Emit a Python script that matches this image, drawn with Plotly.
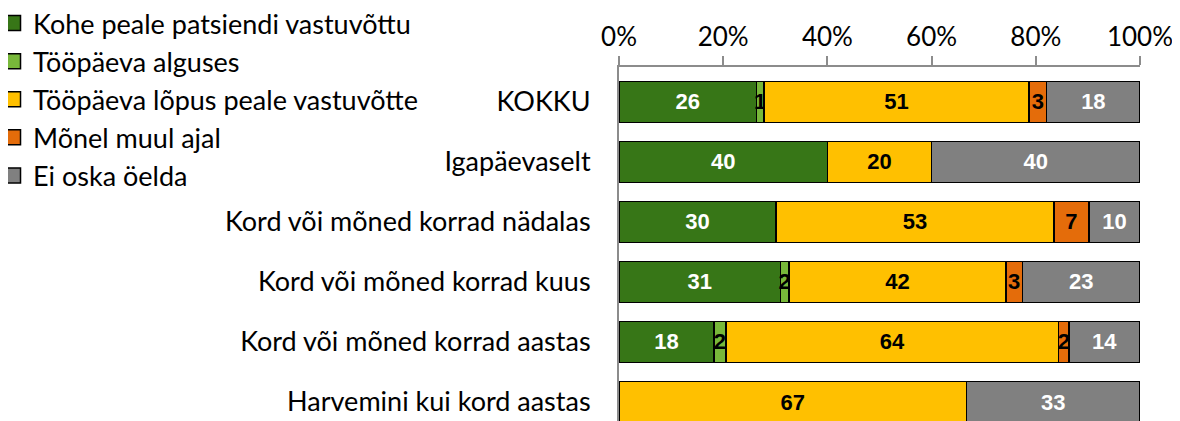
import plotly.graph_objects as go

categories = [
    "KOKKU",
    "Igapäevaselt",
    "Kord või mõned korrad nädalas",
    "Kord või mõned korrad kuus",
    "Kord või mõned korrad aastas",
    "Harvemini kui kord aastas",
]

series_names = [
    "Kohe peale patsiendi vastuvõttu",
    "Tööpäeva alguses",
    "Tööpäeva lõpus peale vastuvõtte",
    "Mõnel muul ajal",
    "Ei oska öelda",
]

kohe = [26.4, 40.0, 30.1, 31.0, 18.2, 0]
alguses = [1.4, 0, 0, 1.6, 2.3, 0]
lopus = [50.9, 20.0, 53.4, 41.7, 63.9, 66.7]
muul = [3.4, 0, 6.7, 3.1, 2.0, 0]
ei_oska = [17.9, 40.0, 9.8, 22.6, 13.6, 33.3]

x_tickvals = [0, 20, 40, 60, 80, 100]
x_ticktext = ["0%", "20%", "40%", "60%", "80%", "100%"]

colors = ["#377617", "#78B83A", "#FFC000", "#E46C0A", "#808080"]
text_colors = ["white", "black", "black", "black", "white"]

fig = go.Figure()

for name, vals, col, tcol in zip(
    series_names, [kohe, alguses, lopus, muul, ei_oska], colors, text_colors
):
    fig.add_trace(
        go.Bar(
            y=categories,
            x=vals,
            name=name,
            orientation="h",
            showlegend=False,
            marker=dict(color=col, line=dict(color="black", width=1.5)),
            text=[f"{v:.0f}" if v else "" for v in vals],
            textposition="inside",
            insidetextanchor="middle",
            textangle=0,
            constraintext="none",
            textfont=dict(
                family="Liberation Sans, Arial",
                size=22,
                color=tcol,
                weight="bold",
            ),
            hoverinfo="skip",
        )
    )
    # legend entry with a bigger square than the bar legend symbol
    fig.add_trace(
        go.Scatter(
            x=[None],
            y=[None],
            mode="markers",
            name=name,
            marker=dict(
                symbol="square",
                size=15,
                color=col,
                line=dict(color="black", width=1.5),
            ),
            hoverinfo="skip",
        )
    )

# the page body adds 8px on the left and top, margins allow for it
fig.update_layout(
    barmode="stack",
    bargap=0.32,
    width=1180,
    height=421,
    margin=dict(l=611, r=48, t=59, b=0, autoexpand=False),
    plot_bgcolor="white",
    paper_bgcolor="white",
    font=dict(family="Lato", size=27, color="black"),
    showlegend=True,
    legend=dict(
        x=-1.2015,
        y=1.1879,
        xanchor="left",
        yanchor="top",
        font=dict(family="Lato", size=27, color="black"),
        itemwidth=30,
        traceorder="normal",
        bgcolor="rgba(0,0,0,0)",
    ),
    xaxis=dict(
        side="top",
        range=[0, 100],
        tickvals=x_tickvals,
        ticktext=x_ticktext,
        showgrid=False,
        zeroline=False,
        showline=True,
        linecolor="#8C8C8C",
        linewidth=1.5,
        ticks="outside",
        ticklen=9,
        tickcolor="#8C8C8C",
        tickwidth=1.5,
        automargin=False,
        tickfont=dict(family="Lato", size=26, color="black"),
    ),
    yaxis=dict(
        range=[5.45, -0.583],
        showgrid=False,
        zeroline=False,
        showline=True,
        linecolor="#8C8C8C",
        linewidth=2,
        ticks="",
        ticklabelstandoff=21,
        automargin=False,
        tickfont=dict(family="Lato", size=27, color="black"),
    ),
)

fig.write_html("out.html")
